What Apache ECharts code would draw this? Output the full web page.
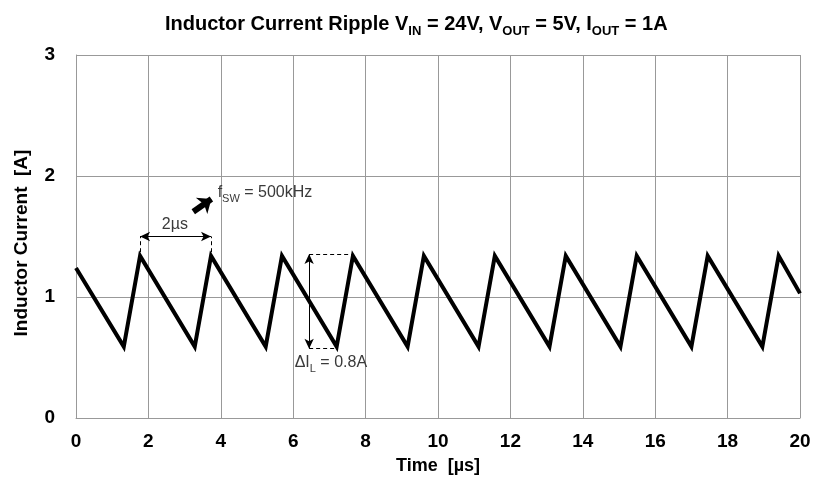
<!DOCTYPE html>
<html>
<head>
<meta charset="utf-8">
<script src="https://cdn.jsdelivr.net/npm/echarts@6/dist/echarts.min.js"></script>
<style>
  html, body { margin: 0; padding: 0; background: #fff; }
  #chart { width: 814px; height: 482px; }
</style>
</head>
<body>
<div id="chart"></div>
<script>
// waveform corners (time in µs, current in A)
var timeValues = [0, 1.32, 1.77, 3.28, 3.73, 5.24, 5.69, 7.20, 7.65, 9.16, 9.61,
    11.12, 11.57, 13.08, 13.53, 15.04, 15.49, 17.00, 17.45, 18.96, 19.41, 20];
var currentValues = [1.24, 0.59, 1.34, 0.59, 1.34, 0.59, 1.34, 0.59, 1.34, 0.59, 1.34,
    0.59, 1.34, 0.59, 1.34, 0.59, 1.34, 0.59, 1.34, 0.59, 1.34, 1.03];

var xMin = 0, xMax = 20, xStep = 2;
var yMin = 0, yMax = 3, yStep = 1;

var dom = document.getElementById('chart');
var myChart = echarts.init(dom, null, { renderer: 'canvas' });

var font = '"Liberation Sans", Arial, sans-serif';
var noteColor = '#3a3a3a';

var waveData = timeValues.map(function (t, k) { return [t, currentValues[k]]; });

var dashed = { color: '#000', width: 1, type: [4, 3] };
var thin = { color: '#000', width: 1, type: 'solid' };

var option = {
    animation: false,
    title: {
        text: 'Inductor Current Ripple V{s|IN} = 24V, V{s|OUT} = 5V, I{s|OUT} = 1A',
        left: 160,
        top: 9,
        textStyle: {
            fontFamily: font,
            fontSize: 20,
            fontWeight: 'bold',
            color: '#000',
            rich: {
                s: { fontFamily: font, fontSize: 13, fontWeight: 'bold', color: '#000', verticalAlign: 'bottom', padding: [0, 0, -4, 0] }
            }
        }
    },
    grid: { left: 76, right: 14, top: 55, bottom: 64 },
    xAxis: {
        type: 'value',
        min: xMin, max: xMax, interval: xStep,
        name: 'Time  [µs]',
        nameLocation: 'middle',
        nameGap: 39,
        nameTextStyle: { fontFamily: font, fontSize: 18, fontWeight: 'bold', color: '#000' },
        axisLine: { show: true, lineStyle: { color: '#999', width: 1 } },
        axisTick: { show: false },
        axisLabel: { margin: 14, fontFamily: font, fontSize: 19, fontWeight: 'bold', color: '#000' },
        splitLine: { show: true, lineStyle: { color: '#999', width: 1 } }
    },
    yAxis: {
        type: 'value',
        min: yMin, max: yMax, interval: yStep,
        name: 'Inductor Current  [A]',
        nameLocation: 'middle',
        nameGap: 45,
        nameTextStyle: { fontFamily: font, fontSize: 19, fontWeight: 'bold', color: '#000', padding: [0, 13, 0, 0] },
        axisLine: { show: true, lineStyle: { color: '#999', width: 1 } },
        axisTick: { show: false },
        axisLabel: { margin: 21, fontFamily: font, fontSize: 19, fontWeight: 'bold', color: '#000' },
        splitLine: { show: true, lineStyle: { color: '#999', width: 1 } }
    },
    series: [
        {
            name: 'Inductor current',
            type: 'line',
            data: waveData,
            showSymbol: false,
            symbol: 'none',
            silent: true,
            z: 3,
            lineStyle: { color: '#000', width: 4, join: 'miter' },
            markLine: {
                silent: true,
                symbol: ['none', 'none'],
                label: { show: false },
                emphasis: { disabled: true },
                data: [
                    // 2µs period marker
                    [{ coord: [1.77, 1.37], lineStyle: dashed }, { coord: [1.77, 1.50] }],
                    [{ coord: [3.73, 1.37], lineStyle: dashed }, { coord: [3.73, 1.50] }],
                    [{ coord: [1.77, 1.50], symbol: 'arrow', symbolSize: [7, 10], lineStyle: thin },
                     { coord: [3.73, 1.50], symbol: 'arrow', symbolSize: [7, 10] }],
                    // ripple marker
                    [{ coord: [6.44, 1.355], lineStyle: dashed }, { coord: [7.62, 1.355] }],
                    [{ coord: [6.44, 0.573], lineStyle: dashed }, { coord: [7.18, 0.573] }],
                    [{ coord: [6.44, 1.355], symbol: 'arrow', symbolSize: [7, 10], lineStyle: thin },
                     { coord: [6.44, 0.573], symbol: 'arrow', symbolSize: [7, 10] }],
                    // bold pointer
                    [{ coord: [3.24, 1.705], symbol: 'none', lineStyle: { color: '#000', width: 6, type: 'solid' } },
                     { coord: [3.74, 1.81], symbol: 'arrow', symbolSize: [15, 12] }]
                ]
            },
            markPoint: {
                silent: true,
                symbol: 'circle',
                symbolSize: 0,
                itemStyle: { color: 'transparent' },
                label: {
                    show: true,
                    position: 'inside',
                    fontFamily: font,
                    fontSize: 16,
                    color: noteColor,
                    rich: {
                        s: { fontFamily: font, fontSize: 11, color: noteColor, verticalAlign: 'bottom', padding: [0, 0, -4, 0] }
                    }
                },
                data: [
                    { coord: [2.73, 1.595], value: 0, label: { formatter: '2µs', fontSize: 16 } },
                    { coord: [5.22, 1.86], value: 0, label: { formatter: 'f{s|SW} = 500kHz' } },
                    { coord: [7.04, 0.46], value: 0, label: { formatter: 'ΔI{s|L} = 0.8A' } }
                ]
            }
        }
    ]
};

if (option && typeof option === 'object') {
    myChart.setOption(option);
}

window.addEventListener('resize', myChart.resize);
</script>
</body>
</html>
